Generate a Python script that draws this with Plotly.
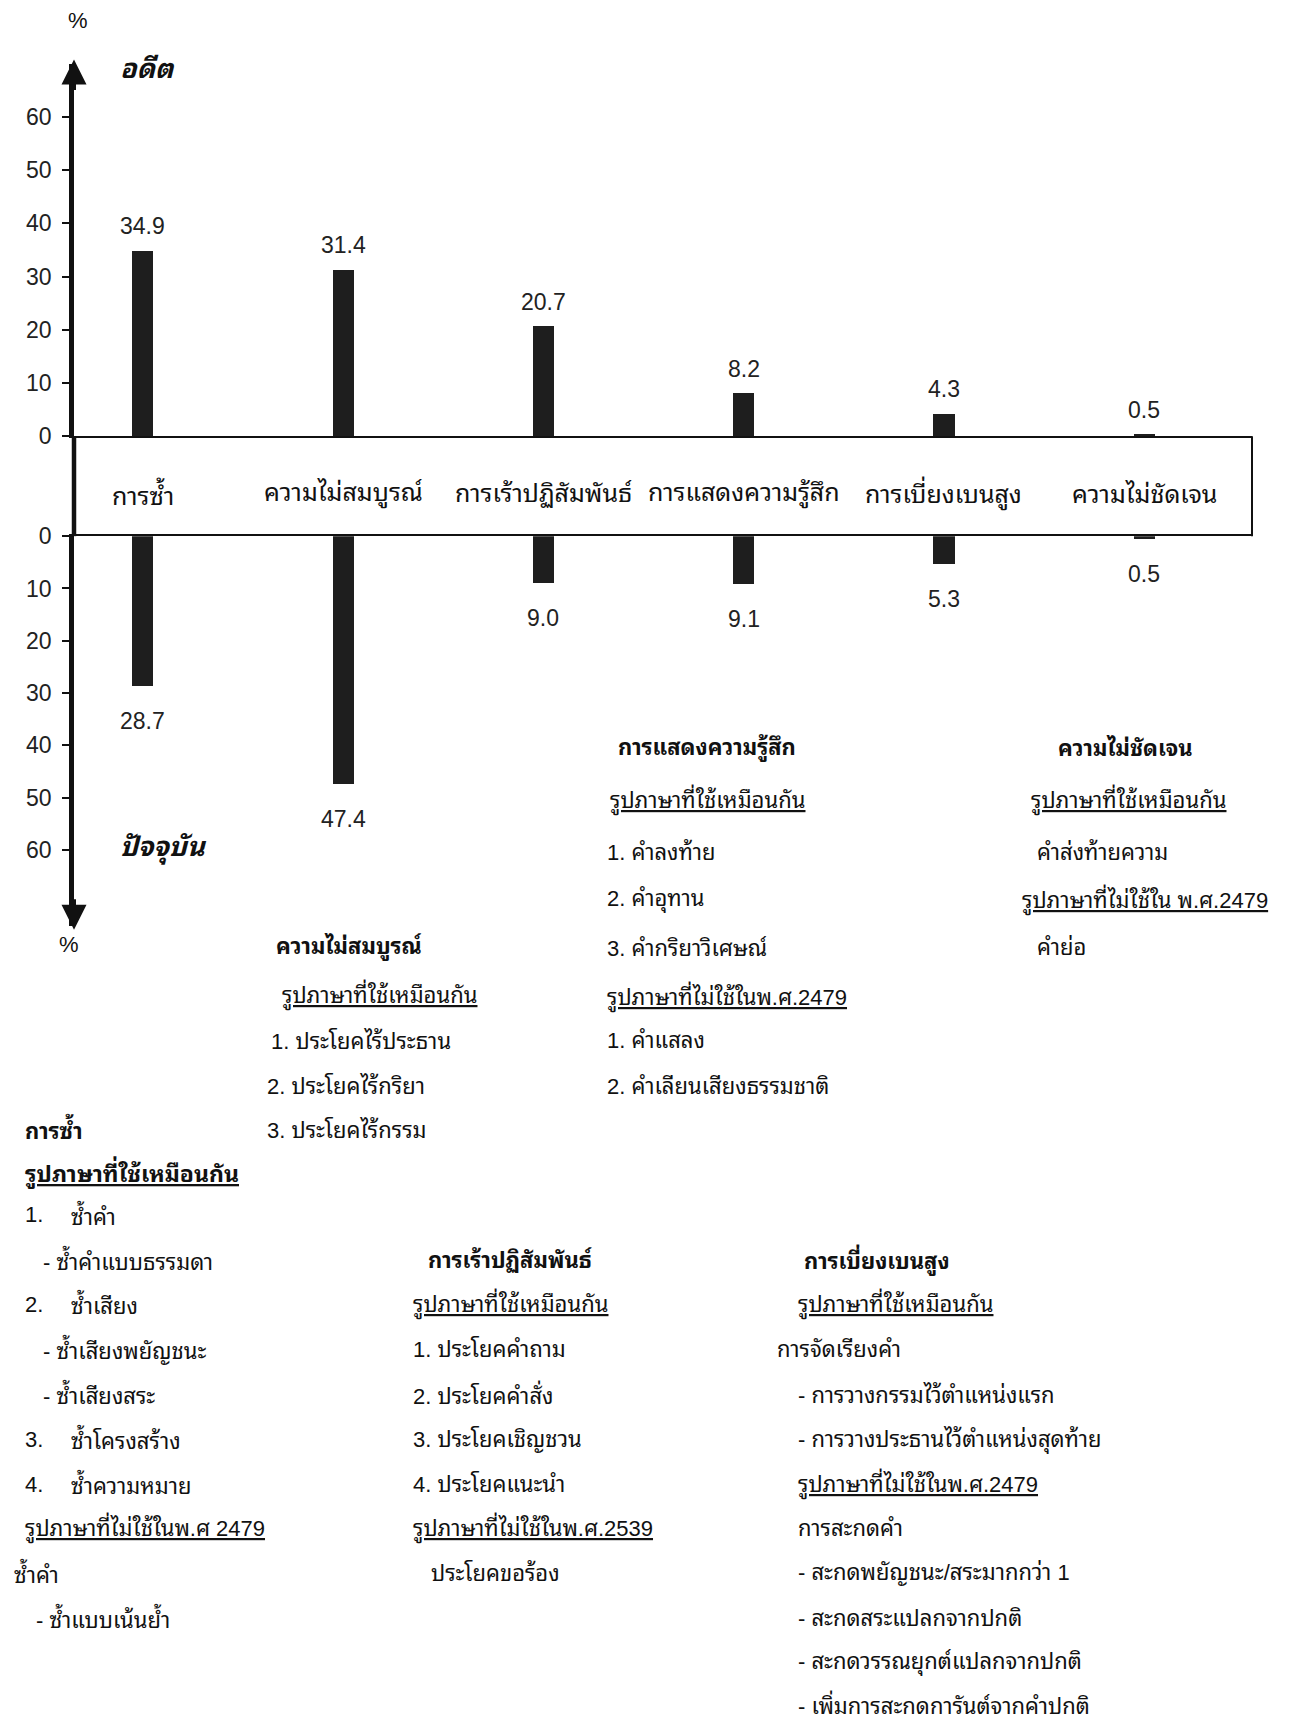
import plotly.graph_objects as go

# ---------------- data ----------------
categories = ["การซ้ำ", "ความไม่สมบูรณ์", "การเร้าปฏิสัมพันธ์",
              "การแสดงความรู้สึก", "การเบี่ยงเบนสูง", "ความไม่ชัดเจน"]
past_values = [34.9, 31.4, 20.7, 8.2, 4.3, 0.5]        # อดีต (upper)
present_values = [28.7, 47.4, 9.0, 9.1, 5.3, 0.5]     # ปัจจุบัน (lower)
past_labels = ["34.9", "31.4", "20.7", "8.2", "4.3", "0.5"]
present_labels = ["28.7", "47.4", "9.0", "9.1", "5.3", "0.5"]
tick_values = [0, 10, 20, 30, 40, 50, 60]
tick_labels = ["0", "10", "20", "30", "40", "50", "60"]

# ---------------- layout helpers ----------------
W, H = 1291, 1718

def X(x):
    # chart-frame pixel -> paper fraction
    return (x - 5) / W

def XT(x):
    # text pixel -> paper fraction
    return (x - 9) / W

def Y(y):
    yc = y - (19 - 0.01447 * (y - 116))
    return 1 - yc / H

FONT = "Liberation Sans, Arial, Noto Sans Thai Looped, Loma, Garuda, Noto Sans Thai, sans-serif"
BLACK = "#111111"
BAR = "#1e1e1e"

AX_L, AX_R = 71, 1249          # x extent of axis / box
UP_ZERO, UP_TOP = 436, 63       # upper y axis: value 0 and top of arrow
LO_ZERO, LO_BOT = 536, 926      # lower y axis: value 0 and bottom of arrow

fig = go.Figure()

fig.add_trace(go.Bar(x=categories, y=past_values, xaxis="x", yaxis="y",
                     marker=dict(color=BAR, line=dict(width=0)), width=0.105,
                     showlegend=False, hoverinfo="x+y"))
fig.add_trace(go.Bar(x=categories, y=present_values, xaxis="x2", yaxis="y2",
                     marker=dict(color=BAR, line=dict(width=0)), width=0.105,
                     showlegend=False, hoverinfo="x+y"))

xrange_ = [-0.344, 5.538]
axis_common = dict(showgrid=False, zeroline=False, fixedrange=True)
TICKFONT = dict(size=23, color="#222222", family=FONT)

fig.update_layout(
    width=W, height=H,
    margin=dict(l=0, r=0, t=0, b=0),
    paper_bgcolor="white", plot_bgcolor="rgba(0,0,0,0)",
    font=dict(family=FONT, color=BLACK, size=21),
    xaxis=dict(domain=[X(AX_L), X(AX_R)], range=xrange_, anchor="y",
               showticklabels=False, ticks="", showline=True,
               linecolor=BLACK, linewidth=2, **axis_common),
    xaxis2=dict(domain=[X(AX_L), X(AX_R)], range=xrange_, anchor="y2",
                side="top", matches="x", showticklabels=False, ticks="",
                showline=True, linecolor=BLACK, linewidth=2, **axis_common),
    yaxis=dict(domain=[Y(UP_ZERO), Y(UP_TOP)], range=[0, 70], anchor="x",
               tickvals=tick_values, ticktext=tick_labels, ticks="outside",
               ticklen=7, tickwidth=1.5, tickcolor=BLACK, ticklabelstandoff=6,
               showline=True, linecolor=BLACK, linewidth=4.5,
               tickfont=TICKFONT, **axis_common),
    yaxis2=dict(domain=[Y(LO_BOT), Y(LO_ZERO)], range=[74.5, 0], anchor="x2",
                tickvals=tick_values, ticktext=tick_labels, ticks="outside",
                ticklen=7, tickwidth=1.5, tickcolor=BLACK, ticklabelstandoff=6,
                showline=True, linecolor=BLACK, linewidth=4.5,
                tickfont=TICKFONT, **axis_common),
    bargap=0,
)

shapes = [
    dict(type="line", xref="paper", yref="paper", x0=X(AX_L), x1=X(AX_L),
         y0=Y(UP_ZERO), y1=Y(LO_ZERO), line=dict(color=BLACK, width=4.5)),
    dict(type="line", xref="paper", yref="paper", x0=X(AX_R), x1=X(AX_R),
         y0=Y(UP_ZERO), y1=Y(LO_ZERO), line=dict(color=BLACK, width=2)),
]
fig.update_layout(shapes=shapes)

ann = []
ann.append(dict(xref="paper", yref="paper", x=X(AX_L), y=Y(UP_TOP - 4),
                ax=0, ay=32, showarrow=True, arrowhead=2, arrowsize=1.25,
                arrowwidth=4, arrowcolor=BLACK, text=""))
ann.append(dict(xref="paper", yref="paper", x=X(AX_L), y=Y(LO_BOT + 4),
                ax=0, ay=-32, showarrow=True, arrowhead=2, arrowsize=1.25,
                arrowwidth=4, arrowcolor=BLACK, text=""))

def txt(text, x, y, anchor="left", size=22, **kw):
    d = dict(xref="paper", yref="paper", x=XT(x), y=Y(y), text=text,
             showarrow=False, xanchor=anchor, yanchor="middle",
             font=dict(size=size, family=FONT, color=BLACK))
    d.update(kw)
    return d

ann.append(txt("%", 79, 20, "center", 22))
ann.append(txt("%", 70, 945, "center", 22))
ann.append(txt("<b><i>อดีต</i></b>", 148, 68, "center", 27))
ann.append(txt("<b><i>ปัจจุบัน</i></b>", 164, 849, "center", 27))

for c in categories:
    ann.append(dict(xref="x", yref="paper", x=c, y=Y(493), text=c,
                    showarrow=False, xanchor="center", yanchor="middle",
                    font=dict(size=25, family=FONT, color=BLACK)))

for c, v, lab in zip(categories, past_values, past_labels):
    ann.append(dict(xref="x", yref="y", x=c, y=v, text=lab, showarrow=False,
                    xanchor="center", yanchor="bottom", yshift=9,
                    font=TICKFONT))
for c, v, lab in zip(categories, present_values, present_labels):
    ann.append(dict(xref="x2", yref="y2", x=c, y=v, text=lab, showarrow=False,
                    xanchor="center", yanchor="top", yshift=-20,
                    font=TICKFONT))

S = 22   # body text size
HS = 22  # heading size
U = lambda s: "<u>" + s + "</u>"
B = lambda s: "<b>" + s + "</b>"

ann += [
    txt(B("การแสดงความรู้สึก"), 708, 748, "center", HS),
    txt(U("รูปภาษาที่ใช้เหมือนกัน"), 609, 800, size=S),
    txt("1. คำลงท้าย", 606, 852, size=S),
    txt("2. คำอุทาน", 606, 900, size=S),
    txt("3. คำกริยาวิเศษณ์", 606, 948, size=S),
    txt(U("รูปภาษาที่ไม่ใช้ในพ.ศ.2479"), 606, 997, size=S),
    txt("1. คำแสลง", 606, 1041, size=S),
    txt("2. คำเลียนเสียงธรรมชาติ", 606, 1087, size=S),
]
ann += [
    txt(B("ความไม่ชัดเจน"), 1126, 748, "center", HS),
    txt(U("รูปภาษาที่ใช้เหมือนกัน"), 1030, 800, size=S),
    txt("คำส่งท้ายความ", 1036, 852, size=S),
    txt(U("รูปภาษาที่ไม่ใช้ใน พ.ศ.2479"), 1021, 900, size=S),
    txt("คำย่อ", 1036, 948, size=S),
]
ann += [
    txt(B("ความไม่สมบูรณ์"), 350, 947, "center", HS),
    txt(U("รูปภาษาที่ใช้เหมือนกัน"), 281, 995, size=S),
    txt("1. ประโยคไร้ประธาน", 270, 1041, size=S),
    txt("2. ประโยคไร้กริยา", 266, 1086, size=S),
    txt("3. ประโยคไร้กรรม", 266, 1130, size=S),
]
ann += [
    txt(B("การซ้ำ"), 24, 1129, size=HS),
    txt(B(U("รูปภาษาที่ใช้เหมือนกัน")), 24, 1173, size=HS + 1),
    txt("1.", 24, 1215, size=S), txt("ซ้ำคำ", 70, 1215, size=S),
    txt("- ซ้ำคำแบบธรรมดา", 42, 1260, size=S),
    txt("2.", 24, 1305, size=S), txt("ซ้ำเสียง", 70, 1305, size=S),
    txt("- ซ้ำเสียงพยัญชนะ", 42, 1350, size=S),
    txt("- ซ้ำเสียงสระ", 42, 1395, size=S),
    txt("3.", 24, 1440, size=S), txt("ซ้ำโครงสร้าง", 70, 1440, size=S),
    txt("4.", 24, 1485, size=S), txt("ซ้ำความหมาย", 70, 1485, size=S),
    txt(U("รูปภาษาที่ไม่ใช้ในพ.ศ 2479"), 24, 1529, size=S),
    txt("ซ้ำคำ", 13, 1574, size=S),
    txt("- ซ้ำแบบเน้นย้ำ", 35, 1619, size=S),
]
ann += [
    txt(B("การเร้าปฏิสัมพันธ์"), 511, 1260, "center", HS),
    txt(U("รูปภาษาที่ใช้เหมือนกัน"), 412, 1305, size=S),
    txt("1. ประโยคคำถาม", 412, 1350, size=S),
    txt("2. ประโยคคำสั่ง", 412, 1395, size=S),
    txt("3. ประโยคเชิญชวน", 412, 1440, size=S),
    txt("4. ประโยคแนะนำ", 412, 1485, size=S),
    txt(U("รูปภาษาที่ไม่ใช้ในพ.ศ.2539"), 412, 1529, size=S),
    txt("ประโยคขอร้อง", 430, 1574, size=S),
]
ann += [
    txt(B("การเบี่ยงเบนสูง"), 878, 1260, "center", HS),
    txt(U("รูปภาษาที่ใช้เหมือนกัน"), 797, 1305, size=S),
    txt("การจัดเรียงคำ", 776, 1350, size=S),
    txt("- การวางกรรมไว้ตำแหน่งแรก", 797, 1395, size=S),
    txt("- การวางประธานไว้ตำแหน่งสุดท้าย", 797, 1440, size=S),
    txt(U("รูปภาษาที่ไม่ใช้ในพ.ศ.2479"), 797, 1485, size=S),
    txt("การสะกดคำ", 797, 1529, size=S),
    txt("- สะกดพยัญชนะ/สระมากกว่า 1", 797, 1574, size=S),
    txt("- สะกดสระแปลกจากปกติ", 797, 1619, size=S),
    txt("- สะกดวรรณยุกต์แปลกจากปกติ", 797, 1663, size=S),
    txt("- เพิ่มการสะกดการันต์จากคำปกติ", 797, 1705, size=S),
]

fig.update_layout(annotations=ann)
fig.write_html("out.html")
